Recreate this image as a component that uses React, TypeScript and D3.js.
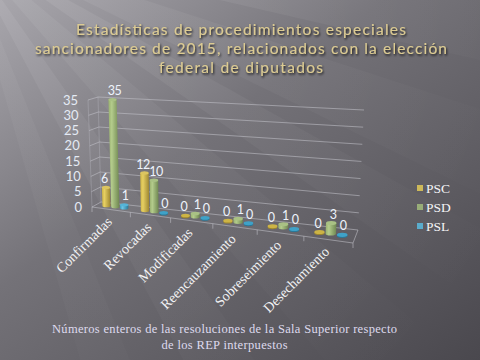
import React from "react";
import * as d3 from "d3";

const categories = ["Confirmadas", "Revocadas", "Modificadas", "Reencauzamiento", "Sobreseimiento", "Desechamiento"];
const seriesNames = ["PSC", "PSD", "PSL"];
const pscValues = [6, 12, 0, 0, 0, 0];
const psdValues = [35, 10, 1, 1, 1, 3];
const pslValues = [1, 0, 0, 0, 0, 0];
const valueTicks = [0, 5, 10, 15, 20, 25, 30, 35];
const titleLines = [
  "Estadísticas de procedimientos  especiales",
  "sancionadores de 2015, relacionados con la elección",
  "federal de diputados",
];
const footerLines = [
  "Números enteros de las resoluciones de la Sala Superior respecto",
  "de los REP  interpuestos",
];

const W = 480;
const H = 360;

const colors: Record<string, { light: string; mid: string; dark: string; top: string }> = {
  PSC: { light: "#e6cf62", mid: "#cdb445", dark: "#9c8530", top: "#dcc560" },
  PSD: { light: "#b4cc8c", mid: "#98b06e", dark: "#6e8650", top: "#a9c184" },
  PSL: { light: "#6cc4e4", mid: "#3fa2c8", dark: "#2a7898", top: "#55b4d8" },
};
const legendColors: Record<string, string> = { PSC: "#cdb95a", PSD: "#98ad78", PSL: "#5aaccc" };
const labelShift: Record<string, number> = { PSC: -1.5, PSD: 2, PSL: 1 };

// box corners on screen: f/b = front/back, l/r = left/right, 0/1 = floor/top
const box = {
  fl0: [92, 207], fr0: [353, 243], bl0: [101, 202], br0: [358, 230],
  fl1: [88, 100], fr1: [359, 116], bl1: [98, 97], br1: [364, 110],
};
// perspective: the right end of the chart is nearer, so categories widen to the right
const persp = 1.16;
const warp = (u: number) => u / (persp - (persp - 1) * u);

const lerp = (a: number[], b: number[], t: number) => [a[0] + (b[0] - a[0]) * t, a[1] + (b[1] - a[1]) * t];
const bilerp = (fl: number[], fr: number[], bl: number[], br: number[], u: number, w: number) =>
  lerp(lerp(fl, fr, u), lerp(bl, br, u), w);

// u: along categories, v: height, w: depth (0 front, 1 back)
const project = (u: number, v: number, w: number) => {
  const uu = warp(u);
  const b = bilerp(box.fl0, box.fr0, box.bl0, box.br0, uu, w);
  const t = bilerp(box.fl1, box.fr1, box.bl1, box.br1, uu, w);
  return lerp(b, t, v);
};

const App: React.FC = () => {
  const x = d3.scaleBand<string>().domain(categories).range([0, 1]);
  const inner = d3.scaleBand<string>().domain(seriesNames).range([0.15, 0.85]);
  const y = d3.scaleLinear().domain([0, 35]).range([0, 1]);
  const valuesBySeries: Record<string, number[]> = { PSC: pscValues, PSD: psdValues, PSL: pslValues };
  const depth = 0.5;

  const bars: { key: string; s: string; u: number; value: number; cat: string }[] = [];
  categories.forEach((c, i) => {
    seriesNames.forEach((s) => {
      const u = (x(c) as number) + ((inner(s) as number) + inner.bandwidth() / 2) * x.bandwidth();
      bars.push({ key: c + s, s, u, value: valuesBySeries[s][i], cat: c });
    });
  });
  const du = inner.bandwidth() * x.bandwidth() * 0.92;

  const line = (a: number[], b: number[]) => `M${a[0]},${a[1]}L${b[0]},${b[1]}`;

  // light rays from the top-left corner
  const rays = [
    [6, 13, 0.11], [18, 26, 0.08], [29, 35, 0.09], [40, 49, 0.07], [55, 62, 0.08], [68, 74, 0.05],
  ];
  const rayOrigin = [-40, -60];
  const rayPath = (a0: number, a1: number) => {
    const r = 900;
    const p0 = [rayOrigin[0] + r * Math.cos((a0 * Math.PI) / 180), rayOrigin[1] + r * Math.sin((a0 * Math.PI) / 180)];
    const p1 = [rayOrigin[0] + r * Math.cos((a1 * Math.PI) / 180), rayOrigin[1] + r * Math.sin((a1 * Math.PI) / 180)];
    return `M${rayOrigin[0]},${rayOrigin[1]}L${p0[0]},${p0[1]}L${p1[0]},${p1[1]}Z`;
  };

  return (
    <svg width={W} height={H} style={{ position: "absolute", left: 0, top: 0 }}>
      <defs>
        <linearGradient id="bg" x1="0" y1="0" x2="1" y2="1">
          <stop offset="0" stopColor="#a8a6ac" />
          <stop offset="0.4" stopColor="#747278" />
          <stop offset="1" stopColor="#4a484e" />
        </linearGradient>
        <radialGradient id="rayfade" cx="0" cy="0" r="1" gradientUnits="userSpaceOnUse" gradientTransform="translate(-40,-60) scale(620)">
          <stop offset="0" stopColor="#fff" stopOpacity="1" />
          <stop offset="1" stopColor="#fff" stopOpacity="0" />
        </radialGradient>
        {seriesNames.map((s) => (
          <linearGradient key={s} id={`g-${s}`} x1="0" y1="0" x2="1" y2="0">
            <stop offset="0" stopColor={colors[s].mid} />
            <stop offset="0.3" stopColor={colors[s].light} />
            <stop offset="1" stopColor={colors[s].dark} />
          </linearGradient>
        ))}
        <filter id="shadow" x="-10%" y="-30%" width="120%" height="160%">
          <feDropShadow dx="1" dy="1.5" stdDeviation="1" floodColor="#000" floodOpacity="0.85" />
        </filter>
      </defs>

      <rect width={W} height={H} fill="url(#bg)" />
      {rays.map(([a0, a1, op], i) => (
        <path key={i} d={rayPath(a0, a1)} fill="url(#rayfade)" opacity={op} />
      ))}

      {/* title */}
      <g fill="#dccb92" fontFamily="Lato, 'Open Sans', sans-serif" fontSize={15.5} textAnchor="middle" filter="url(#shadow)">
        {titleLines.map((t, i) => (
          <text key={i} x={241} y={35 + i * 19} textLength={[330, 412, 164][i]} lengthAdjust="spacing">
            {t}
          </text>
        ))}
      </g>

      {/* walls gridlines */}
      <g stroke="#c4c4cc" strokeOpacity={0.55} strokeWidth={1} fill="none">
        {valueTicks.map((t) => (
          <path key={t} d={line(project(0, y(t), 0), project(0, y(t), 1)) + line(project(0, y(t), 1), project(1, y(t), 1))} />
        ))}
        <path d={line(project(0, 0, 0), project(0, 1, 0))} strokeOpacity={0.3} />
        <path d={line(project(0, 0, 1), project(0, 1, 1))} strokeOpacity={0.3} />
        <path d={line(project(0, 0, 0), project(1, 0, 0)) + line(project(1, 0, 0), project(1, 0, 1))} />
        {d3.range(categories.length + 1).map((i) => {
          const p = project(i / categories.length, 0, 0);
          return <path key={i} d={line(p, [p[0], p[1] + 5])} />;
        })}
      </g>

      {/* value axis labels */}
      <g fill="#e4eaf4" fontFamily="Lato, 'Open Sans', sans-serif" fontSize={13} textAnchor="end">
        {valueTicks.map((t) => {
          const p = project(0, y(t), 0);
          return (
            <text key={t} x={p[0] - 10} y={p[1]} dy="0.35em">
              {t}
            </text>
          );
        })}
      </g>

      {/* bars */}
      {bars.map((b) => {
        const B = project(b.u, 0, depth);
        const T = project(b.u, y(b.value), depth);
        const r = (project(b.u + du / 2, 0, depth)[0] - project(b.u - du / 2, 0, depth)[0]) / 2;
        const ry = r * 0.4;
        const c = colors[b.s];
        return (
          <g key={b.key}>
            {b.value > 0 ? (
              <>
                <path
                  d={`M${B[0] + r},${B[1]}L${T[0] + r},${T[1]}L${T[0] - r},${T[1]}L${B[0] - r},${B[1]}A${r},${ry} 0 0 0 ${B[0] + r},${B[1]}Z`}
                  fill={`url(#g-${b.s})`}
                />
                <ellipse cx={T[0]} cy={T[1]} rx={r} ry={ry} fill={c.top} />
              </>
            ) : (
              <>
                <ellipse cx={B[0]} cy={B[1] + 1} rx={r} ry={ry} fill={c.dark} />
                <ellipse cx={B[0]} cy={B[1]} rx={r} ry={ry} fill={c.mid} />
              </>
            )}
          </g>
        );
      })}
      <g fill="#eef3fc" fontFamily="Lato, 'Open Sans', sans-serif" fontSize={12.5} textAnchor="middle" letterSpacing={-0.5}>
        {bars.map((b) => {
          const T = project(b.u, y(b.value), depth);
          return (
            <text key={b.key} x={T[0] + labelShift[b.s]} y={T[1] - 4.5}>
              {b.value}
            </text>
          );
        })}
      </g>

      {/* category labels */}
      <g fill="#f2f2f4" fontFamily="'Liberation Serif', serif" fontSize={14} textAnchor="end">
        {categories.map((c) => {
          const p = project((x(c) as number) + x.bandwidth() / 2, 0, 0);
          const ax = p[0] + 2;
          const ay = p[1] + 13;
          return (
            <text key={c} x={ax} y={ay} transform={`rotate(-45,${ax},${ay})`}>
              {c}
            </text>
          );
        })}
      </g>

      {/* legend */}
      <g fontFamily="'Liberation Serif', serif" fontSize={13.5} fill="#f4f4f6">
        {seriesNames.map((s, i) => (
          <g key={s} transform={`translate(417,${185 + i * 19})`}>
            <rect width={6} height={6} fill={legendColors[s]} />
            <text x={9} y={7.5}>
              {s}
            </text>
          </g>
        ))}
      </g>

      {/* footer */}
      <g fill="#dedaee" fontFamily="'Liberation Serif', serif" fontSize={12.5} textAnchor="middle">
        {footerLines.map((t, i) => (
          <text key={i} x={224.5} y={333 + i * 15.5} textLength={[345, 126][i]} lengthAdjust="spacing">
            {t}
          </text>
        ))}
      </g>
    </svg>
  );
};

export default App;
